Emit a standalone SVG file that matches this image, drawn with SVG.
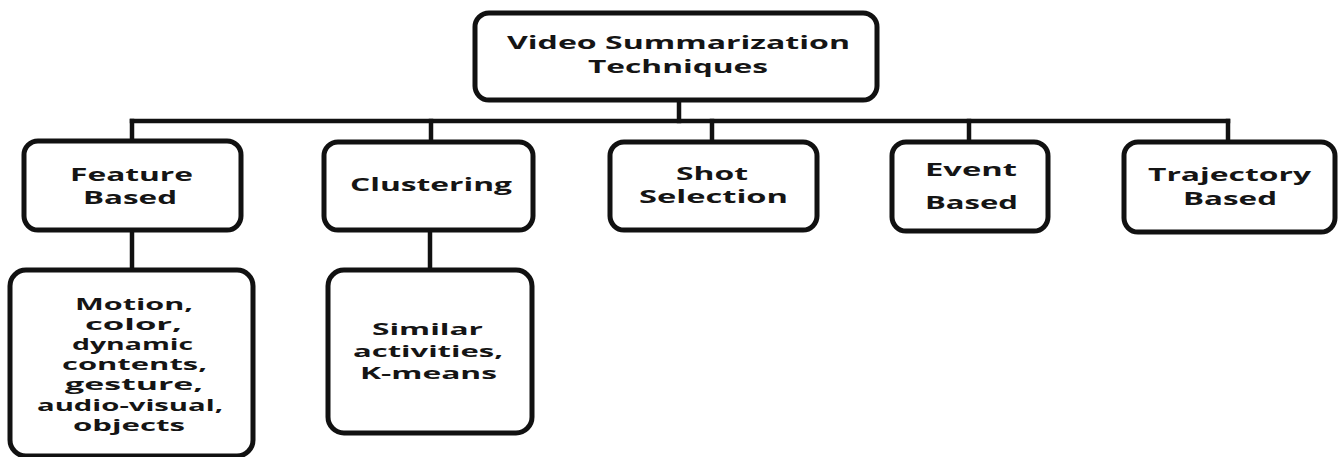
<svg xmlns="http://www.w3.org/2000/svg" width="1339" height="457" viewBox="0 0 1339 457">
  <style>
    .box { fill: #ffffff; stroke: #111111; stroke-width: 5; }
    .link { stroke: #111111; stroke-width: 4.5; fill: none; stroke-linecap: square; }
    text { font-family: "Open Sans", "Noto Sans", "DejaVu Sans", sans-serif; font-weight: 700; font-size: 18.5px; fill: #151515; text-anchor: middle; }
    .detail text { font-size: 16px; }
  </style>
  <rect width="1339" height="457" fill="#ffffff"/>

  <!-- tree connectors -->
  <g id="connectors">
    <line class="link" x1="679" y1="100" x2="679" y2="121"/>
    <line class="link" x1="132" y1="121" x2="1228" y2="121"/>
    <line class="link" x1="132" y1="121" x2="132" y2="141"/>
    <line class="link" x1="431" y1="121" x2="431" y2="142"/>
    <line class="link" x1="712" y1="121" x2="712" y2="142"/>
    <line class="link" x1="969" y1="121" x2="969" y2="142"/>
    <line class="link" x1="1228" y1="121" x2="1228" y2="142"/>
    <line class="link" x1="132" y1="230" x2="132" y2="270"/>
    <line class="link" x1="430" y1="230" x2="430" y2="270"/>
  </g>

  <g id="root">
    <rect class="box" x="475" y="13" width="402" height="87" rx="14"/>
    <text x="678.5" y="49" textLength="343" lengthAdjust="spacingAndGlyphs">Video Summarization</text>
    <text x="678" y="73" textLength="180" lengthAdjust="spacingAndGlyphs">Techniques</text>
  </g>

  <g id="feature-based">
    <rect class="box" x="24" y="141" width="217" height="89" rx="14"/>
    <text x="131.5" y="181" textLength="123" lengthAdjust="spacingAndGlyphs">Feature</text>
    <text x="130" y="204" textLength="94" lengthAdjust="spacingAndGlyphs">Based</text>
  </g>

  <g id="clustering">
    <rect class="box" x="324" y="142" width="209" height="88" rx="14"/>
    <text x="431" y="191" textLength="162" lengthAdjust="spacingAndGlyphs">Clustering</text>
  </g>

  <g id="shot-selection">
    <rect class="box" x="610" y="142" width="207" height="88" rx="14"/>
    <text x="712" y="180" textLength="72" lengthAdjust="spacingAndGlyphs">Shot</text>
    <text x="713.5" y="203" textLength="149" lengthAdjust="spacingAndGlyphs">Selection</text>
  </g>

  <g id="event-based">
    <rect class="box" x="892" y="142" width="156" height="89" rx="14"/>
    <text x="971" y="176" textLength="92" lengthAdjust="spacingAndGlyphs">Event</text>
    <text x="971.5" y="209" textLength="93" lengthAdjust="spacingAndGlyphs">Based</text>
  </g>

  <g id="trajectory-based">
    <rect class="box" x="1124" y="142" width="211" height="90" rx="14"/>
    <text x="1229.5" y="181" textLength="163" lengthAdjust="spacingAndGlyphs">Trajectory</text>
    <text x="1230" y="205" textLength="94" lengthAdjust="spacingAndGlyphs">Based</text>
  </g>

  <g id="feature-details" class="detail">
    <rect class="box" x="10" y="270" width="243" height="186" rx="16"/>
    <text x="134" y="310" textLength="118" lengthAdjust="spacingAndGlyphs">Motion,</text>
    <text x="133.5" y="330" textLength="97" lengthAdjust="spacingAndGlyphs">color,</text>
    <text x="132.5" y="350" textLength="121" lengthAdjust="spacingAndGlyphs">dynamic</text>
    <text x="134.5" y="370" textLength="145" lengthAdjust="spacingAndGlyphs">contents,</text>
    <text x="134" y="390" textLength="138" lengthAdjust="spacingAndGlyphs">gesture,</text>
    <text x="130" y="411" textLength="186" lengthAdjust="spacingAndGlyphs">audio-visual,</text>
    <text x="129" y="431" textLength="112" lengthAdjust="spacingAndGlyphs">objects</text>
  </g>

  <g id="clustering-details" class="detail">
    <rect class="box" x="328" y="270" width="204" height="163" rx="16"/>
    <text x="427.5" y="335" textLength="111" lengthAdjust="spacingAndGlyphs">Similar</text>
    <text x="428" y="357" textLength="150" lengthAdjust="spacingAndGlyphs">activities,</text>
    <text x="428.5" y="379" textLength="137" lengthAdjust="spacingAndGlyphs">K-means</text>
  </g>
</svg>
